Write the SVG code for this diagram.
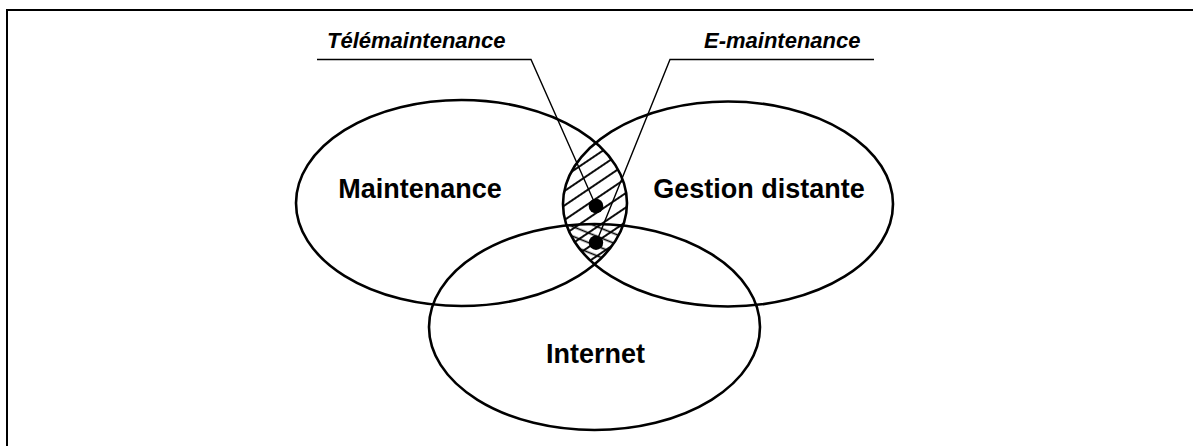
<svg xmlns="http://www.w3.org/2000/svg" width="1193" height="446" viewBox="0 0 1193 446">
<style>
.ell{fill:none;stroke:#000;stroke-width:2.6}
.lbl{font-family:"Liberation Sans",Arial,sans-serif;font-weight:bold;font-size:27px;fill:#000;text-anchor:middle}
.cap{font-family:"Liberation Sans",Arial,sans-serif;font-weight:bold;font-style:italic;font-size:22px;fill:#000}
.ldr{fill:none;stroke:#000;stroke-width:1.4}
.dot{fill:#000}
</style>
<defs>
<clipPath id="cM"><ellipse cx="461.5" cy="203" rx="165.5" ry="103"/></clipPath>
<clipPath id="cG"><ellipse cx="728" cy="204" rx="165" ry="102.5"/></clipPath>
<clipPath id="cI"><ellipse cx="594.5" cy="327" rx="165.5" ry="103"/></clipPath>
<pattern id="h1" patternUnits="userSpaceOnUse" width="12" height="12" patternTransform="rotate(-34)"><line x1="0" y1="6" x2="12" y2="6" stroke="#000" stroke-width="1.9"/></pattern>
<pattern id="h2" patternUnits="userSpaceOnUse" width="9" height="9" patternTransform="rotate(22)"><line x1="0" y1="4.5" x2="9" y2="4.5" stroke="#000" stroke-width="1.6"/></pattern>
</defs>
<rect width="1193" height="446" fill="#fff"/>
<path d="M7,446 V10 H1193" fill="none" stroke="#000" stroke-width="2"/>
<g id="hatching">
<g clip-path="url(#cM)"><g clip-path="url(#cG)"><rect x="540" y="90" width="120" height="230" fill="url(#h1)"/></g></g>
<g clip-path="url(#cM)"><g clip-path="url(#cG)"><g clip-path="url(#cI)"><rect x="540" y="200" width="120" height="120" fill="url(#h2)"/></g></g></g>
</g>
<g id="maintenance">
<ellipse class="ell" cx="461.5" cy="203" rx="165.5" ry="103"/>
<text class="lbl" x="420" y="197.5">Maintenance</text>
</g>
<g id="gestion">
<ellipse class="ell" cx="728" cy="204" rx="165" ry="102.5"/>
<text class="lbl" x="759" y="198.3">Gestion distante</text>
</g>
<g id="internet">
<ellipse class="ell" cx="594.5" cy="327" rx="165.5" ry="103"/>
<text class="lbl" x="595.5" y="362.7">Internet</text>
</g>
<g id="connectors">
<polyline class="ldr" points="317,59.5 531,59.5 596,206"/>
<polyline class="ldr" points="874,59.5 670,59.5 596,243"/>
</g>
<g id="telemaintenance">
<text class="cap" x="327" y="47.7">Télémaintenance</text>
<circle class="dot" cx="596" cy="206" r="7.3"/>
</g>
<g id="emaintenance">
<text class="cap" x="704" y="48">E-maintenance</text>
<circle class="dot" cx="596" cy="242.7" r="7.2"/>
</g>
</svg>
